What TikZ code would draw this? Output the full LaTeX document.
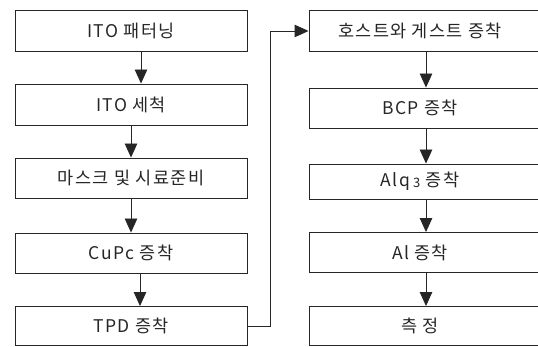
\documentclass[tikz,border=0pt]{standalone}
\usepackage{fontspec}
\setmainfont{Noto Sans CJK KR}
\newfontfamily\kr[LetterSpace=8]{Noto Sans CJK KR}
\usetikzlibrary{arrows.meta}
\tikzset{
  box/.style={draw=black!85, line width=0.9pt, rectangle, inner sep=0pt, font=\kr\fontsize{17.5}{20}\selectfont, text=black!85},
  lbox/.style={box, minimum width=232pt},
  rbox/.style={box, minimum width=236pt, execute at begin node=\hspace*{-14pt}},
  arr/.style={draw=black!85, line width=0.9pt, -{Triangle[width=12.5pt,length=14pt]}}
}
\begin{document}
\begin{tikzpicture}[x=1pt,y=-1pt]
\useasboundingbox (0,0) rectangle (538,347);
\clip (0,0) rectangle (538,347);
% left column
\node[lbox, minimum height=41pt] (l1) at (131,30.5) {ITO 패터닝};
\node[lbox, minimum height=41pt] (l2) at (131,104.5) {ITO 세척};
\node[lbox, minimum height=40pt] (l3) at (131,178) {마스크 및 시료준비};
\node[lbox, minimum height=40pt] (l4) at (131,253) {CuPc 증착};
\node[lbox, minimum height=39pt] (l5) at (131,326) {TPD 증착};
% right column
\node[rbox, minimum height=41pt] (r1) at (427,30.5) {호스트와 게스트 증착};
\node[rbox, minimum height=40pt] (r2) at (427,108) {BCP 증착};
\node[rbox, minimum height=35pt] (r3) at (427,181.5) {Alq\,\raisebox{-1pt}{\fontsize{13}{13}\selectfont 3} 증착};
\node[rbox, minimum height=40pt] (r4) at (427,252.5) {Al 증착};
\node[rbox, minimum height=39pt] (r5) at (427,326) {측 정};
% arrows left
\draw[arr] ([xshift=10pt]l1.south) -- ([xshift=10pt]l2.north);
\draw[arr] (l2.south) -- (l3.north);
\draw[arr] (l3.south) -- (l4.north);
\draw[arr] ([xshift=9pt]l4.south) -- ([xshift=9pt]l5.north);
% arrows right
\draw[arr] ([xshift=-1pt]r1.south) -- ([xshift=-1pt]r2.north);
\draw[arr] ([xshift=-1pt]r2.south) -- ([xshift=-1pt]r3.north);
\draw[arr] ([xshift=-1pt]r3.south) -- ([xshift=-1pt]r4.north);
\draw[arr] ([xshift=-1pt]r4.south) -- ([xshift=-1pt]r5.north);
% connector
\coordinate (c1) at (270,326);
\coordinate (c2) at (270,31);
\draw[arr] (l5.east) -- (c1) -- (c2) -- (c2 -| r1.west);
\end{tikzpicture}
\end{document}
